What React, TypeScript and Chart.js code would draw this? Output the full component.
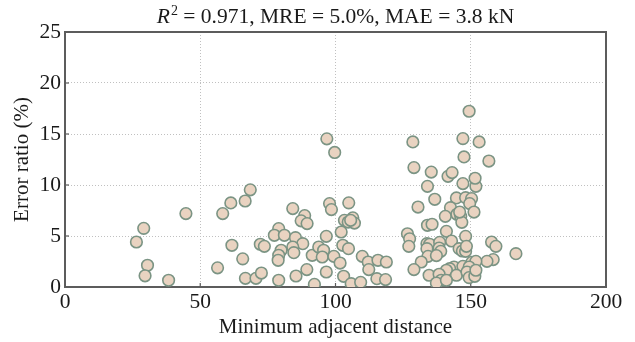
import React, { useEffect, useRef } from "react";
import { Chart, registerables } from "chart.js";

Chart.register(...registerables);

const xValues: number[] = [
  26.4, 29.1, 30.5, 29.6, 38.3, 44.7, 56.4, 58.3, 61.3, 61.7,
  66.6, 68.5, 65.7, 66.7, 70.6, 72.2, 73.7, 72.6, 79.0, 77.4,
  81.1, 85.2, 87.9, 79.9, 79.0, 78.8, 84.2, 84.6, 79.0, 85.4,
  84.2, 88.6, 87.3, 89.5, 89.4, 91.4, 93.8, 95.6, 95.1, 96.6,
  96.6, 92.2, 96.8, 99.7, 97.8, 98.5, 104.9, 99.4, 102.1, 102.7,
  104.8, 101.7, 103.0, 105.8, 109.3, 103.3, 104.7, 106.4, 107.0, 105.6,
  109.9, 112.1, 115.7, 118.8, 112.3, 115.3, 118.5, 128.6, 129.0, 135.4,
  141.6, 143.1, 134.0, 136.7, 130.5, 147.1, 151.9, 151.6, 149.4, 147.1,
  153.1, 147.5, 156.7, 144.7, 148.1, 150.3, 149.6, 151.2, 142.5, 140.6,
  144.9, 146.3, 146.7, 145.9, 134.0, 135.7, 141.0, 148.1, 126.6, 127.4,
  127.1, 133.8, 134.8, 138.5, 138.3, 142.9, 138.9, 133.8, 134.2, 137.3,
  131.7, 129.0, 145.7, 146.9, 148.1, 148.4, 157.7, 159.3, 166.7, 158.3,
  156.0, 150.4, 151.9, 143.8, 142.2, 141.0, 147.1, 149.4, 144.7, 148.6,
  149.4, 151.5, 134.6, 138.3, 139.1, 137.3, 141.0, 151.9,
];

const yValues: number[] = [
  4.41, 5.75, 2.13, 1.10, 0.66, 7.20, 1.88, 7.20, 8.24, 4.09,
  8.43, 9.53, 2.76, 0.85, 0.85, 4.19, 3.99, 1.37, 5.73, 5.07,
  5.07, 4.84, 4.25, 3.60, 3.11, 2.62, 3.92, 3.37, 0.66, 1.08,
  7.69, 7.0, 6.49, 6.22, 1.71, 3.11, 3.92, 3.60, 2.94, 4.97,
  1.47, 0.26, 14.53, 13.19, 8.18, 7.59, 8.25, 3.01, 5.39, 4.09,
  3.76, 2.35, 1.05, 0.33, 0.46, 6.54, 6.37, 6.78, 6.27, 6.54,
  3.01, 2.45, 2.62, 2.45, 1.71, 0.82, 0.73, 14.22, 11.71, 11.27,
  10.85, 11.22, 9.87, 8.60, 7.84, 10.14, 9.87, 10.66, 17.23, 14.55,
  14.22, 12.75, 12.35, 8.73, 8.76, 8.67, 8.18, 7.35, 7.78, 6.93,
  7.13, 6.93, 6.34, 7.35, 6.05, 6.15, 5.46, 4.97, 5.22, 4.73,
  3.99, 4.25, 4.19, 4.38, 3.82, 4.51, 3.50, 3.76, 3.01, 3.08,
  2.45, 1.71, 3.76, 3.53, 3.50, 3.99, 4.41, 3.99, 3.27, 2.69,
  2.52, 2.42, 2.52, 1.96, 1.80, 1.64, 2.03, 1.96, 1.15, 1.47,
  0.92, 1.05, 1.15, 1.25, 0.66, 0.39, 0.66, 1.64,
];

const xTicks: number[] = [0, 50, 100, 150, 200];
const yTicks: number[] = [0, 5, 10, 15, 20, 25];

const titleItalic = "R";
const titleSup = "2";
const titleRest = " = 0.971, MRE = 5.0%, MAE = 3.8 kN";
const xTitle = "Minimum adjacent distance";
const yTitle = "Error ratio (%)";

const FONT = "'Liberation Serif', 'Times New Roman', serif";

const framePlugin = {
  id: "frame",
  beforeDatasetsDraw(chart: any) {
    const { ctx, chartArea } = chart;
    const { left, right, top, bottom } = chartArea;
    ctx.save();
    ctx.strokeStyle = "#5c5c5c";
    ctx.lineWidth = 2;
    ctx.strokeRect(left, top, right - left, bottom - top);
    ctx.lineWidth = 1.2;
    const xs = chart.scales.x;
    const ys = chart.scales.y;
    xTicks.forEach((t) => {
      const px = xs.getPixelForValue(t);
      ctx.beginPath();
      ctx.moveTo(px, bottom);
      ctx.lineTo(px, bottom - 4);
      ctx.stroke();
    });
    yTicks.forEach((t) => {
      const py = ys.getPixelForValue(t);
      ctx.beginPath();
      ctx.moveTo(left, py);
      ctx.lineTo(left + 4, py);
      ctx.stroke();
    });
    ctx.restore();
  },
};

const titlePlugin = {
  id: "mathTitle",
  afterDraw(chart: any) {
    const { ctx, chartArea } = chart;
    const cx = (chartArea.left + chartArea.right) / 2;
    const baseY = 23;
    ctx.save();
    ctx.fillStyle = "#1a1a1a";
    ctx.textBaseline = "alphabetic";
    const fMain = `21.5px ${FONT}`;
    const fItal = `italic 21.5px ${FONT}`;
    const fSup = `14px ${FONT}`;
    ctx.font = fItal;
    const wR = ctx.measureText(titleItalic).width;
    ctx.font = fSup;
    const wS = ctx.measureText(titleSup).width;
    ctx.font = fMain;
    const wRest = ctx.measureText(titleRest).width;
    const total = wR + 1 + wS + wRest;
    let x = cx - total / 2;
    ctx.textAlign = "left";
    ctx.font = fItal;
    ctx.fillText(titleItalic, x, baseY);
    x += wR + 1;
    ctx.font = fSup;
    ctx.fillText(titleSup, x, baseY - 8);
    x += wS;
    ctx.font = fMain;
    ctx.fillText(titleRest, x, baseY);
    ctx.restore();
  },
};

export default function App() {
  const canvasRef = useRef<HTMLCanvasElement | null>(null);

  useEffect(() => {
    const canvas = canvasRef.current;
    if (!canvas) return;
    const points = xValues.map((x, i) => ({ x, y: yValues[i] }));
    const chart = new Chart(canvas, {
      type: "scatter",
      data: {
        datasets: [
          {
            data: points,
            backgroundColor: "#e9d3c1",
            borderColor: "#7b9484",
            borderWidth: 1.6,
            pointRadius: 5.8,
            pointHoverRadius: 5.8,
          },
        ],
      },
      options: {
        animation: false,
        responsive: false,
        maintainAspectRatio: false,
        layout: { padding: { top: 32, right: 29, left: 0, bottom: 0 } },
        plugins: {
          legend: { display: false },
          tooltip: { enabled: false },
          title: { display: false },
        },
        scales: {
          x: {
            type: "linear",
            min: 0,
            max: 200,
            afterBuildTicks: (scale: any) => {
              scale.ticks = xTicks.map((v) => ({ value: v }));
            },
            afterFit: (scale: any) => {
              scale.height = 55;
            },
            ticks: {
              color: "#1a1a1a",
              font: { family: FONT, size: 21.5 },
              padding: 2,
              maxRotation: 0,
            },
            grid: {
              color: (c: any) =>
                c.tick && (c.tick.value === 0 || c.tick.value === 200)
                  ? "rgba(0,0,0,0)"
                  : "#c0c0c0",
              lineWidth: 1,
              drawTicks: false,
            },
            border: { display: false, dash: [1, 2] },
            title: {
              display: true,
              text: xTitle,
              color: "#1a1a1a",
              font: { family: FONT, size: 21 },
              padding: { top: 0, bottom: 2 },
            },
          },
          y: {
            type: "linear",
            min: 0,
            max: 25,
            afterBuildTicks: (scale: any) => {
              scale.ticks = yTicks.map((v) => ({ value: v }));
            },
            afterFit: (scale: any) => {
              scale.width = 65;
            },
            ticks: {
              color: "#1a1a1a",
              font: { family: FONT, size: 21.5 },
              padding: 4,
            },
            grid: {
              color: (c: any) =>
                c.tick && (c.tick.value === 0 || c.tick.value === 25)
                  ? "rgba(0,0,0,0)"
                  : "#c0c0c0",
              lineWidth: 1,
              drawTicks: false,
            },
            border: { display: false, dash: [1, 2] },
            title: {
              display: true,
              text: yTitle,
              color: "#1a1a1a",
              font: { family: FONT, size: 21 },
              padding: { top: 10, bottom: 0 },
            },
          },
        },
      },
      plugins: [framePlugin, titlePlugin],
    });
    return () => chart.destroy();
  }, []);

  return (
    <div style={{ position: "absolute", left: 0, top: 0, width: 635, height: 342, background: "#fff" }}>
      <canvas ref={canvasRef} width={635} height={342} style={{ display: "block" }} />
    </div>
  );
}
